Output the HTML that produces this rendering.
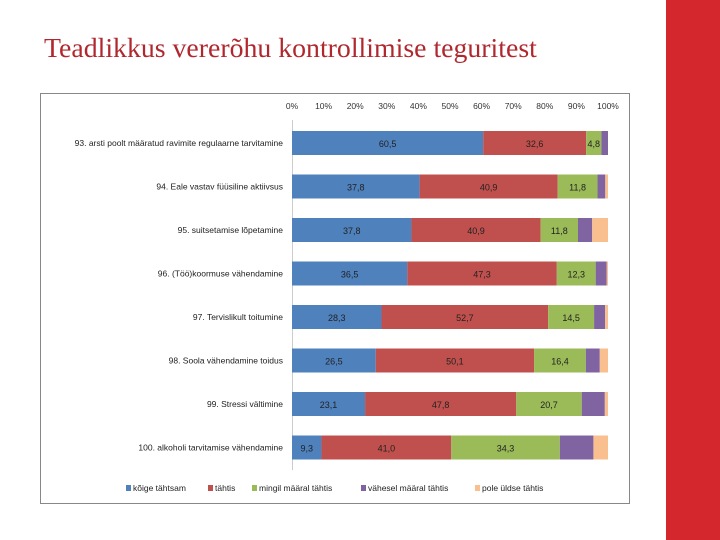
<!DOCTYPE html>
<html><head><meta charset="utf-8"><style>
body{margin:0;width:720px;height:540px;background:#fff;overflow:hidden;position:relative;font-family:"Liberation Sans",sans-serif}
#title{position:absolute;left:44px;top:33px;font-family:"Liberation Serif",serif;font-size:27.8px;color:#B0282E;letter-spacing:0;white-space:nowrap}
#redbar{position:absolute;left:666px;top:0;width:54px;height:540px;background:#D3272D}
svg{position:absolute;left:0;top:0}
</style></head><body>
<div id="title">Teadlikkus vererõhu kontrollimise teguritest</div>
<div id="redbar"></div>
<svg id="chart" width="720" height="540">
<rect x="40.5" y="93.5" width="589" height="410" fill="#fff" stroke="#888"/>
</svg>
<script>
const categories=["93. arsti poolt määratud ravimite regulaarne tarvitamine","94. Eale vastav füüsiline aktiivsus","95. suitsetamise lõpetamine","96. (Töö)koormuse vähendamine","97. Tervislikult toitumine","98. Soola vähendamine toidus","99. Stressi vältimine","100. alkoholi tarvitamise vähendamine"];
const seriesNames=["kõige tähtsam","tähtis","mingil määral tähtis","vähesel määral tähtis","pole üldse tähtis"];
const s1=[60.5,37.8,37.8,36.5,28.3,26.5,23.1,9.3];
const s2=[32.6,40.9,40.9,47.3,52.7,50.1,47.8,41.0];
const s3=[4.8,11.8,11.8,12.3,14.5,16.4,20.7,34.3];
const s4=[2.1,2.3,4.5,3.5,3.5,4.4,7.3,10.6];
const s5=[0,0.8,5.0,0.4,0.9,2.6,1.0,4.6];
const showLabel=[true,true,true,false,false];
const tickLabels=["0%","10%","20%","30%","40%","50%","60%","70%","80%","90%","100%"];
const colors=["#4F81BD","#C0504D","#9BBB59","#8064A2","#F9BF8F"];
const NS="http://www.w3.org/2000/svg";
const svg=document.getElementById("chart");
const x0=292,x1=608,yTop=131,step=43.5,bh=24;
const xs=p=>x0+(x1-x0)*p/100;
const yb=i=>yTop+i*step;
function mk(t,a){const e=document.createElementNS(NS,t);for(const k in a)e.setAttribute(k,a[k]);svg.appendChild(e);return e;}
tickLabels.forEach((t,i)=>{const e=mk("text",{x:xs(i*10),y:109,"font-size":"8.5","text-anchor":"middle",fill:"#333"});e.textContent=t;

});
const ax=mk("line",{x1:x0+0.5,x2:x0+0.5,y1:120,y2:470,stroke:"#ccc"});


const series=[s1,s2,s3,s4,s5];
categories.forEach((c,i)=>{
 const y=yb(i);
 const lt=mk("text",{x:283,y:y+15,"font-size":"8.5","text-anchor":"end",fill:"#222"});lt.textContent=c;
 
 
 let tot=0;series.forEach(s=>tot+=s[i]);
 let acc=0;
 series.forEach((s,k)=>{
  const v=s[i];if(v<=0)return;
  const a=xs(acc/tot*100),b=xs((acc+v)/tot*100);
  const r=mk("rect",{x:a,y:y,width:b-a,height:bh,fill:colors[k]});
  
  
  if(showLabel[k]){const t=mk("text",{x:(a+b)/2,y:y+16,"font-size":"9","text-anchor":"middle",fill:"#222"});t.textContent=v.toFixed(1).replace(".",",");
  
  }
  acc+=v;
 });
});
const legX=[126,208,252,361,475];
seriesNames.forEach((n,k)=>{
 const r=mk("rect",{x:legX[k],y:485,width:5,height:6,fill:colors[k]});
 
 
 const t=mk("text",{x:legX[k]+7,y:491,"font-size":"8.5",fill:"#222"});t.textContent=n;
 
 
});
</script>
</body></html>
